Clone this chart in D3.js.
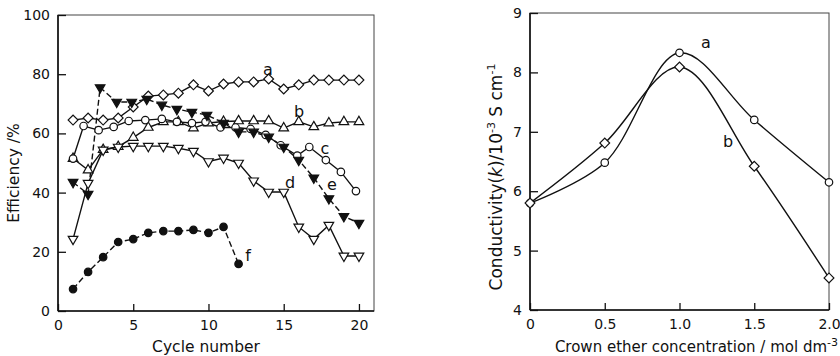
<!DOCTYPE html>
<html lang="en">
<head>
<meta charset="utf-8">
<title>Efficiency and conductivity</title>
<script type="text/javascript" src="https://d3js.org/d3.v7.min.js"></script>
<style type="text/css">
  body { margin: 0; background: #fff; }
  text { font-family: "DejaVu Sans", sans-serif; fill: #111; }
</style>
</head>
<body>
<script type="text/javascript">

// left panel: efficiency vs cycle number
var cycles = d3.range(1, 21);
var effA = [64.5, 65.2, 64.5, 65.2, 68.9, 72.6, 73, 73.6, 76.4, 74.3, 76.7, 77.4, 77.4, 78.4, 75, 76.4, 78, 78, 78, 78];
var effB = [51.5, 47.6, 54.5, 55.5, 58.6, 62, 63.9, 63.9, 61.8, 63.5, 64, 64.2, 64.2, 64.2, 61.8, 63.9, 62.2, 63.5, 63.9, 63.9];
var cyclesC = [1, 1.7, 2.7, 3.7, 4.7, 5.8, 6.9, 7.9, 8.9, 9.8, 10.8, 11.8, 12.8, 13.8, 14.8, 15.9, 16.7, 17.8, 18.8, 19.8];
var effC = [51.5, 62.5, 61.1, 62.2, 64.2, 64.5, 64.9, 63.9, 63.5, 63.9, 62, 62, 61.5, 59.5, 56, 52.5, 55.4, 51, 47, 40.5];
var effD = [24.3, 43.2, 54.4, 55.4, 55.7, 55.7, 55.7, 55, 54, 50.5, 51.7, 50, 44, 40.2, 40.2, 28.4, 24.3, 29, 18.6, 18.6];
var cyclesE = [1, 2, 2.8, 3.9, 4.9, 5.9, 6.9, 7.9, 8.9, 9.9, 11, 12, 13, 14, 15, 16, 17, 18, 19, 20];
var effE = [43.5, 39.5, 75.5, 70.6, 70.6, 71.6, 69.6, 68.2, 67.2, 66.2, 63.5, 60.5, 60.5, 58.8, 55.4, 51, 45, 38, 32, 29.7];
var cyclesF = d3.range(1, 13);
var effF = [7.4, 13.2, 18.2, 23.3, 24.3, 26.4, 27, 27, 27.4, 26.4, 28.4, 15.9];
var cycleTicks = [0, 5, 10, 15, 20];
var effTicks = [0, 20, 40, 60, 80, 100];

// right panel: conductivity vs crown ether concentration
var conc = [0, 0.5, 1.0, 1.5, 2.0];
var condA = [5.8, 6.48, 8.33, 7.2, 6.15];
var condB = [5.8, 6.81, 8.09, 6.42, 4.54];
var concTicks = [0, 0.5, 1.0, 1.5, 2.0];
var condTicks = [4, 5, 6, 7, 8, 9];

var w = 840;
var h = 356;
var ink = "#111";

var svg = d3.select("body").append("svg")
    .attr("width", w)
    .attr("height", h);

// ---------- left panel ----------
var x1 = d3.scaleLinear().domain([0, 21]).range([58, 374]);
var y1 = d3.scaleLinear().domain([0, 100]).range([311, 15]);

function frame(x, y) {
    var r = x.range(), d = y.range();
    svg.append("rect")
        .attr("x", r[0]).attr("y", d[1])
        .attr("width", r[1] - r[0]).attr("height", d[0] - d[1])
        .attr("fill", "none").attr("stroke", "#444").attr("stroke-width", 1);
    svg.append("line").attr("x1", r[0]).attr("x2", r[0]).attr("y1", d[1]).attr("y2", d[0])
        .attr("stroke", ink).attr("stroke-width", 1.6);
    svg.append("line").attr("x1", r[0]).attr("x2", r[1]).attr("y1", d[0]).attr("y2", d[0])
        .attr("stroke", ink).attr("stroke-width", 1.6);
}

function axes(x, y, xt, yt, xfmt, yfmt) {
    var gx = svg.append("g")
        .attr("transform", "translate(0," + y.range()[0] + ")")
        .call(d3.axisBottom(x).tickValues(xt).tickFormat(xfmt).tickSize(-7).tickSizeOuter(0).tickPadding(9));
    var gy = svg.append("g")
        .attr("transform", "translate(" + x.range()[0] + ",0)")
        .call(d3.axisLeft(y).tickValues(yt).tickFormat(yfmt).tickSize(-8).tickSizeOuter(0).tickPadding(8));
    [gx, gy].forEach(function(g) {
        g.select(".domain").remove();
        g.selectAll("line").attr("stroke", ink).attr("stroke-width", 1.3);
        g.selectAll("text").style("font-size", "14px").style("font-family", "DejaVu Sans, sans-serif").attr("fill", ink);
    });
}

frame(x1, y1);
axes(x1, y1, cycleTicks, effTicks, d3.format("d"), d3.format("d"));

var line1 = d3.line()
    .x(function(d) { return x1(d[0]); })
    .y(function(d) { return y1(d[1]); });

function pairs(xs, ys) {
    return ys.map(function(v, i) { return [xs[i], v]; });
}

var series1 = [
    {name: "a", pts: pairs(cycles, effA), shape: "diamond", fill: "#fff", dash: null},
    {name: "b", pts: pairs(cycles, effB), shape: "up", fill: "#fff", dash: null},
    {name: "c", pts: pairs(cyclesC, effC), shape: "circle", fill: "#fff", dash: null},
    {name: "d", pts: pairs(cycles, effD), shape: "down", fill: "#fff", dash: null},
    {name: "e", pts: pairs(cyclesE, effE), shape: "down", fill: ink, dash: "6,3"},
    {name: "f", pts: pairs(cyclesF, effF), shape: "circle", fill: ink, dash: "6,3"}
];

function symbolFor(shape) {
    if (shape === "diamond") return d3.symbol().type(d3.symbolSquare).size(48)();
    if (shape === "up" || shape === "down") return d3.symbol().type(d3.symbolTriangle).size(40)();
    return d3.symbol().type(d3.symbolCircle).size(44)();
}
function rot(shape) {
    if (shape === "diamond") return " rotate(45)";
    if (shape === "down") return " rotate(180)";
    return "";
}

function drawSeries(list, lineGen, x, y) {
    list.forEach(function(s) {
        svg.append("path")
            .datum(s.pts)
            .attr("d", lineGen)
            .attr("fill", "none")
            .attr("stroke", ink)
            .attr("stroke-width", 1.4)
            .attr("stroke-dasharray", s.dash);
    });
    list.forEach(function(s) {
        svg.selectAll(null)
            .data(s.pts)
            .enter()
            .append("path")
            .attr("d", symbolFor(s.shape))
            .attr("transform", function(d) { return "translate(" + x(d[0]) + "," + y(d[1]) + ")" + rot(s.shape); })
            .attr("fill", s.fill)
            .attr("stroke", ink)
            .attr("stroke-width", 1.2);
    });
}

drawSeries(series1, line1, x1, y1);

// curve labels
var labels1 = [["a", 268, 75], ["b", 299, 117], ["c", 325, 154], ["d", 290, 188], ["e", 332, 190], ["f", 248, 261]];
svg.selectAll(null).data(labels1).enter().append("text")
    .attr("x", function(d) { return d[1]; })
    .attr("y", function(d) { return d[2]; })
    .attr("text-anchor", "middle")
    .style("font-size", "16px")
    .text(function(d) { return d[0]; });

svg.append("text")
    .attr("transform", "translate(19,173) rotate(-90)")
    .attr("text-anchor", "middle")
    .style("font-size", "15.5px")
    .text("Efficiency /%");

svg.append("text")
    .attr("x", 206).attr("y", 352)
    .attr("text-anchor", "middle")
    .style("font-size", "15.5px")
    .text("Cycle number");

// ---------- right panel ----------
var x2 = d3.scaleLinear().domain([0, 2]).range([530, 829]);
var y2 = d3.scaleLinear().domain([4, 9]).range([310, 13]);

frame(x2, y2);
axes(x2, y2, concTicks, condTicks, function(d) { return d === 0 ? "0" : d3.format(".1f")(d); }, d3.format("d"));

var line2 = d3.line()
    .x(function(d) { return x2(d[0]); })
    .y(function(d) { return y2(d[1]); })
    .curve(d3.curveCatmullRom.alpha(0.5));

var series2 = [
    {name: "a", pts: pairs(conc, condA), shape: "circle", fill: "#fff", dash: null},
    {name: "b", pts: pairs(conc, condB), shape: "diamond", fill: "#fff", dash: null}
];
drawSeries(series2, line2, x2, y2);

svg.append("text").attr("x", 706).attr("y", 48).attr("text-anchor", "middle").style("font-size", "16px").text("a");
svg.append("text").attr("x", 728).attr("y", 147).attr("text-anchor", "middle").style("font-size", "16px").text("b");

var yt2 = svg.append("text")
    .attr("transform", "translate(502,177) rotate(-90)")
    .attr("text-anchor", "middle")
    .style("font-size", "17px");
yt2.append("tspan").text("Conductivity(");
yt2.append("tspan").style("font-style", "italic").text("k");
yt2.append("tspan").text(")/10");
yt2.append("tspan").attr("dy", -7).style("font-size", "11px").text("-3");
yt2.append("tspan").attr("dy", 7).text(" S cm");
yt2.append("tspan").attr("dy", -7).style("font-size", "11px").text("-1");

var xt2 = svg.append("text")
    .attr("x", 838).attr("y", 352)
    .attr("text-anchor", "end")
    .style("font-size", "15px");
xt2.append("tspan").text("Crown ether concentration / mol dm");
xt2.append("tspan").attr("dy", -6).style("font-size", "11px").text("-3");

</script>
</body>
</html>
